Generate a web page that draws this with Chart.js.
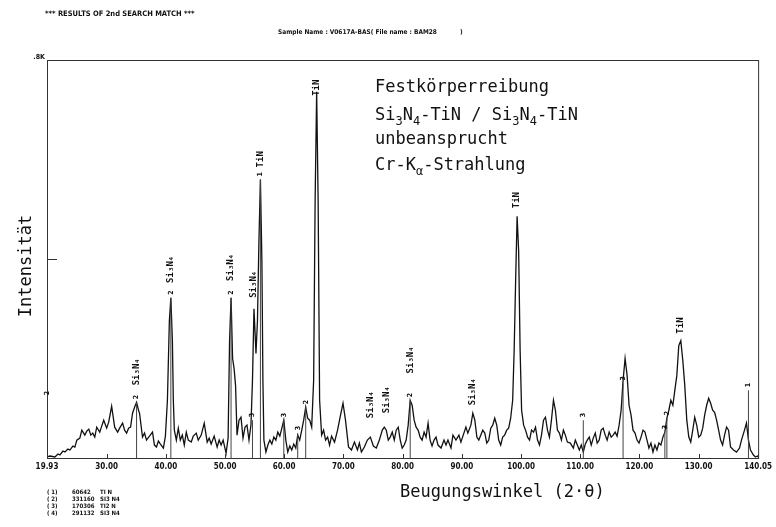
<!DOCTYPE html>
<html>
<head>
<meta charset="utf-8">
<script src="https://cdn.jsdelivr.net/npm/chart.js@4.4.1/dist/chart.umd.min.js"></script>
<style>
  html, body { margin: 0; padding: 0; background: #fff; }
  #wrap { width: 776px; height: 527px; }
</style>
</head>
<body>
<div id="wrap"><canvas id="xrd" width="776" height="527"></canvas></div>
<script>
// XRD pattern, 2nd search match, Si3N4-TiN / Si3N4-TiN (Cr-K alpha)

const angles = [
  19.93,20.43,21.27,21.78,22.11,22.62,22.96,23.46,23.80,24.30,24.64,24.97,25.48,25.81,26.32,26.65,26.99,27.33,27.66,28.00,28.33,28.84,29.17,29.51,
  30.01,30.35,30.85,31.19,31.36,31.86,32.20,32.70,33.04,33.38,33.71,34.05,34.38,34.72,35.06,35.39,35.56,36.06,36.40,36.74,37.24,37.75,38.08,38.42,38.75,39.09,39.59,39.93,
  40.27,40.60,40.85,41.11,41.27,41.44,41.78,42.11,42.45,42.79,43.12,43.46,43.80,44.30,44.64,45.14,45.48,45.98,46.49,46.99,47.33,47.66,48.17,48.67,49.01,49.34,49.68,
  50.18,50.52,50.77,51.02,51.28,51.53,51.78,52.03,52.37,52.70,53.04,53.38,53.71,54.05,54.38,54.64,54.89,55.06,55.23,55.48,55.73,55.98,56.23,56.40,56.57,56.91,57.24,57.58,57.91,58.25,58.59,58.92,59.26,59.60,59.93,
  60.27,60.60,60.94,61.27,61.61,61.95,62.28,62.62,62.96,63.29,63.63,63.96,64.30,64.64,64.97,65.22,65.48,65.73,65.98,66.32,66.65,66.99,67.33,67.66,68.00,68.50,69.01,69.51,69.93,
  70.35,70.86,71.36,71.86,72.37,72.70,73.04,73.54,74.05,74.55,75.06,75.56,76.07,76.57,76.91,77.24,77.58,77.91,78.25,78.59,78.92,79.26,79.60,79.93,
  80.27,80.60,80.94,81.28,81.61,81.95,82.28,82.62,82.96,83.29,83.63,83.96,84.30,84.64,84.97,85.31,85.64,85.98,86.49,86.99,87.33,87.66,88.17,88.50,89.01,89.51,89.85,
  90.35,90.69,91.02,91.53,91.86,92.20,92.54,92.87,93.21,93.54,93.88,94.22,94.55,94.89,95.22,95.56,95.90,96.23,96.57,96.90,97.24,97.58,97.91,98.25,98.59,98.84,99.09,99.34,99.60,99.85,
  100.10,100.44,100.77,101.11,101.44,101.78,102.12,102.45,102.79,103.12,103.46,103.80,104.13,104.47,104.80,105.14,105.48,105.81,106.15,106.49,106.82,107.16,107.49,107.83,108.33,108.84,109.17,109.51,109.85,
  110.18,110.52,110.86,111.19,111.53,111.86,112.20,112.54,112.87,113.21,113.54,113.88,114.22,114.55,114.89,115.23,115.56,115.90,116.23,116.57,116.91,117.24,117.58,117.92,118.25,118.59,118.92,119.26,119.60,119.93,
  120.27,120.61,120.94,121.28,121.61,121.95,122.29,122.62,122.96,123.29,123.63,123.97,124.30,124.64,124.97,125.31,125.65,125.98,126.32,126.65,126.99,127.33,127.66,128.00,128.34,128.67,129.01,129.34,129.68,
  130.02,130.35,130.69,131.02,131.36,131.70,132.03,132.37,132.70,133.04,133.38,133.71,134.05,134.38,134.72,135.06,135.39,135.90,136.40,136.91,137.24,137.75,138.08,138.42,138.76,139.26,139.60,139.93,140.05
];

const counts = [
  2,4,2,8,6,14,12,18,16,24,22,36,40,56,46,54,58,46,50,42,62,52,64,76,
  60,72,104,76,62,52,60,70,56,50,60,62,90,102,112,96,90,42,50,36,44,52,26,22,34,28,20,44,
  116,276,322,236,116,56,36,60,36,46,26,52,36,32,44,50,36,46,70,32,40,28,44,22,36,26,36,
  10,40,236,322,200,180,146,46,76,82,40,62,66,36,66,156,300,256,210,276,436,560,396,156,36,12,26,36,28,42,36,52,44,60,76,
  36,12,24,16,28,20,46,36,56,76,102,80,76,62,156,516,736,516,116,46,56,36,42,26,44,32,56,86,110,
  76,22,16,32,16,30,12,22,36,42,24,20,36,56,62,56,36,42,52,36,56,62,36,20,
  26,36,66,116,106,76,62,56,42,36,52,42,70,36,24,36,42,26,20,36,26,36,20,46,36,46,32,
  50,62,50,66,90,76,42,36,46,56,50,30,36,60,66,80,66,36,26,42,46,56,60,80,116,216,356,486,416,216,
  96,66,56,42,36,56,52,62,36,26,46,76,82,56,42,76,116,96,56,50,36,56,46,32,30,20,36,26,16,
  26,12,28,36,42,26,40,50,30,36,56,60,46,36,52,42,46,52,44,66,96,156,200,166,106,86,56,50,36,30,
  42,56,52,36,20,30,12,26,16,30,26,42,52,80,96,116,106,136,166,226,236,196,146,76,42,32,56,82,66,
  42,46,60,86,106,120,110,96,92,76,56,36,26,46,62,56,22,16,12,20,36,56,70,36,16,6,2,4,2
];

// search-match reference sticks
const markerAngles = [19.93, 35.06, 40.85, 51.02, 54.64, 55.98, 59.93, 62.28, 63.63, 81.28, 110.52, 117.24, 124.30, 124.64, 138.42];
const markerTops   = [120, 112, 322, 322, 76, 560, 76, 50, 102, 116, 76, 150, 52, 80, 136];
const markerLabels = ["2", "2", "2", "2", "3", "1", "3", "3", "2", "2", "3", "3", "3", "2", "1"];

// phase labels above peaks
const phaseAngles = [35.06, 40.85, 51.02, 54.89, 55.98, 65.48, 74.55, 77.24, 81.28, 91.86, 99.34, 126.99];
const phaseBase   = [146, 352, 356, 322, 584, 728, 80, 90, 170, 106, 502, 250];
const phaseNames  = ["Si₃N₄", "Si₃N₄", "Si₃N₄", "Si₃N₄", "TiN", "TiN", "Si₃N₄", "Si₃N₄", "Si₃N₄", "Si₃N₄", "TiN", "TiN"];

const xTicks = [19.93, 30, 40, 50, 60, 70, 80, 90, 100, 110, 120, 130, 140.05];

const refNo    = ["( 1)", "( 2)", "( 3)", "( 4)"];
const refCard  = ["60642", "331160", "170306", "291132"];
const refPhase = ["TI N", "SI3 N4", "TI2 N", "SI3 N4"];

const MONO = "'DejaVu Sans Mono', monospace";
const SMALL = "'DejaVu Sans Condensed', 'Liberation Sans Narrow', 'DejaVu Sans', sans-serif";
const INK = "#111";

function rotText(ctx, text, px, py) {
  ctx.save();
  ctx.translate(px, py);
  ctx.rotate(-Math.PI / 2);
  ctx.textAlign = "left";
  ctx.textBaseline = "middle";
  ctx.fillText(text, 0, 0);
  ctx.restore();
}

// draws a run of [text, isSub] pieces
function runText(ctx, parts, x0, y0, size) {
  let x = x0;
  parts.forEach(([t, sub]) => {
    ctx.font = (sub ? Math.round(size * 0.7) : size) + "px " + MONO;
    ctx.fillText(t, x, y0 + (sub ? size * 0.3 : 0));
    x += ctx.measureText(t).width;
  });
}

const textLayer = {
  id: "textLayer",
  afterDraw(chart) {
    const { ctx, chartArea: a, scales: { x, y } } = chart;
    ctx.save();
    ctx.fillStyle = INK;

    // frame
    ctx.lineWidth = 1;
    ctx.strokeStyle = "#333";
    ctx.strokeRect(a.left + 0.5, a.top + 0.5, a.right - a.left, a.bottom - a.top);
    // inner ticks
    ctx.beginPath();
    const yMid = Math.round(y.getPixelForValue(400)) + 0.5;
    ctx.moveTo(a.left, yMid); ctx.lineTo(a.left + 10, yMid);
    xTicks.forEach(v => {
      const px = Math.round(x.getPixelForValue(v)) + 0.5;
      ctx.moveTo(px, a.bottom); ctx.lineTo(px, a.bottom - 4);
    });
    ctx.stroke();

    // y top label
    ctx.font = "bold 7px " + SMALL;
    ctx.textAlign = "right";
    ctx.textBaseline = "middle";
    ctx.fillText(".8K", a.left - 2, a.top - 3);

    // marker numbers
    markerAngles.forEach((ang, i) => {
      rotText(ctx, markerLabels[i], x.getPixelForValue(ang), y.getPixelForValue(markerTops[i]) - 3);
    });

    // phase labels
    ctx.font = "bold 9px " + MONO;
    phaseAngles.forEach((ang, i) => {
      rotText(ctx, phaseNames[i], x.getPixelForValue(ang), y.getPixelForValue(phaseBase[i]));
    });

    // header
    ctx.textAlign = "left";
    ctx.textBaseline = "middle";
    ctx.font = "bold 7.5px " + SMALL;
    ctx.fillText("*** RESULTS OF 2nd SEARCH MATCH ***", 45, 14);
    ctx.font = "bold 6.5px " + SMALL;
    ctx.fillText("Sample Name : V0617A-BAS( File name : BAM28", 278, 32);
    ctx.fillText(")", 460, 32);

    // reference cards
    ctx.font = "bold 6px " + SMALL;
    refNo.forEach((t, i) => {
      const yy = 492 + i * 7;
      ctx.fillText(t, 47, yy);
      ctx.fillText(refCard[i], 72, yy);
      ctx.fillText(refPhase[i], 100, yy);
    });

    // annotation block
    ctx.textBaseline = "alphabetic";
    const fs = 17;
    runText(ctx, [["Festkörperreibung", false]], 375, 92, fs);
    runText(ctx, [["Si", false], ["3", true], ["N", false], ["4", true], ["-TiN / Si", false],
                  ["3", true], ["N", false], ["4", true], ["-TiN", false]], 375, 120, fs);
    runText(ctx, [["unbeansprucht", false]], 375, 144, fs);
    runText(ctx, [["Cr-K", false], ["α", true], ["-Strahlung", false]], 375, 170, fs);

    // axis titles
    ctx.font = fs + "px " + MONO;
    ctx.fillText("Beugungswinkel (2·θ)", 400, 497);
    ctx.save();
    ctx.translate(31, 266);
    ctx.rotate(-Math.PI / 2);
    ctx.textAlign = "center";
    ctx.fillText("Intensität", 0, 0);
    ctx.restore();

    ctx.restore();
  }
};

const patternData = angles.map((a, i) => ({ x: a, y: counts[i] }));
const stickData = [];
markerAngles.forEach((a, i) => {
  stickData.push({ x: a, y: 0 }, { x: a, y: markerTops[i] }, { x: a, y: null });
});

new Chart(document.getElementById("xrd"), {
  type: "line",
  data: {
    datasets: [
      {
        label: "sticks",
        data: stickData,
        borderColor: "#444",
        borderWidth: 1,
        pointRadius: 0,
        spanGaps: false,
        tension: 0,
      },
      {
        label: "pattern",
        data: patternData,
        borderColor: INK,
        borderWidth: 1.3,
        pointRadius: 0,
        tension: 0,
        fill: false,
      },
    ],
  },
  options: {
    responsive: false,
    animation: false,
    devicePixelRatio: 1,
    layout: { padding: { top: 60, right: 14, bottom: 47, left: 0 } },
    plugins: { legend: { display: false }, tooltip: { enabled: false } },
    scales: {
      x: {
        type: "linear",
        min: 19.93,
        max: 140.05,
        grid: { display: false, drawTicks: false },
        border: { display: false },
        afterBuildTicks: (s) => { s.ticks = xTicks.map(v => ({ value: v })); },
        afterFit: (s) => { s.height = 22; },
        ticks: {
          autoSkip: false,
          maxRotation: 0,
          padding: 4,
          color: INK,
          font: { family: SMALL, size: 8, weight: "bold" },
          callback: (v) => Number(v).toFixed(2),
        },
      },
      y: {
        min: 0,
        max: 800,
        grid: { display: false, drawTicks: false },
        border: { display: false },
        ticks: { display: false },
        afterFit: (s) => { s.width = 47; },
      },
    },
  },
  plugins: [textLayer],
});
</script>
</body>
</html>
